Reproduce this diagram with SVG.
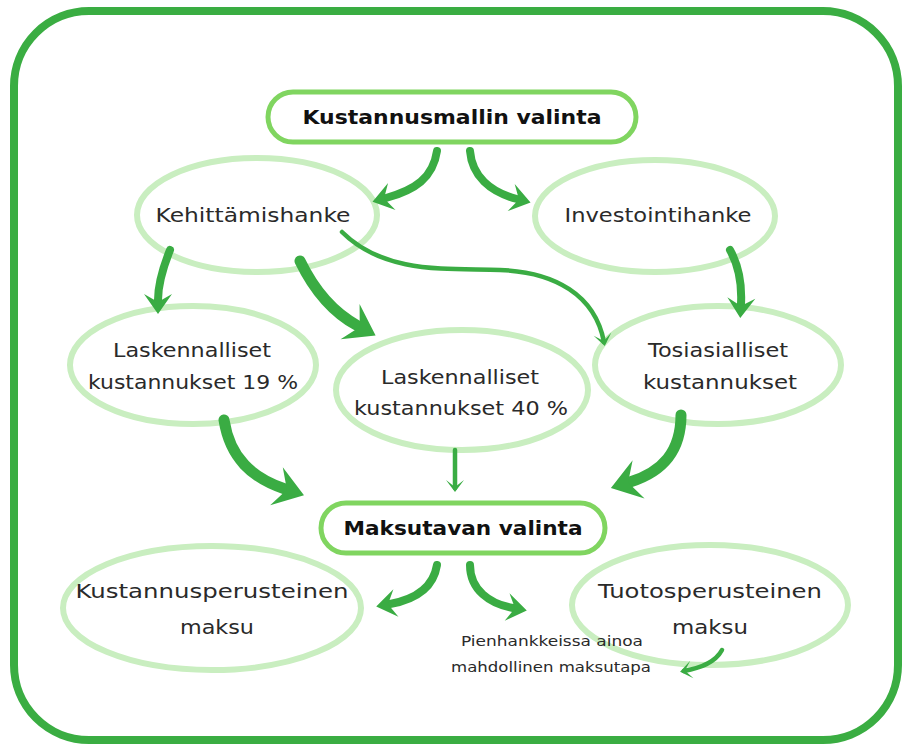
<svg xmlns="http://www.w3.org/2000/svg" width="911" height="749" viewBox="0 0 911 749">
<style>
.t{font-family:"DejaVu Sans","Open Sans",sans-serif;font-size:19px;fill:#2a2a2a;text-anchor:middle}
.b{font-weight:bold;font-size:20px;fill:#111}
.s{font-size:14px}
.e{fill:#fff;stroke:#c9eec0;stroke-width:6}
.box{fill:#fff;stroke:#80d560;stroke-width:5}
.a{fill:none;stroke:#3aac43;stroke-linecap:round}
.w1{stroke-width:11;marker-end:url(#hb)}
.w2{stroke-width:8;marker-end:url(#hm)}
.w3{stroke-width:4.5;marker-end:url(#hs)}
</style>
<defs>
<marker id="hb" markerUnits="userSpaceOnUse" orient="auto" markerWidth="60" markerHeight="60" viewBox="-30 -30 60 60" refX="0" refY="0"><path d="M20,0 L-9,-20 L2,0 L-9,20 Z" fill="#3aac43"/></marker>
<marker id="hm" markerUnits="userSpaceOnUse" orient="auto" markerWidth="50" markerHeight="50" viewBox="-25 -25 50 50" refX="0" refY="0"><path d="M14,0 L-6,-14 L2,0 L-6,14 Z" fill="#3aac43"/></marker>
<marker id="hs" markerUnits="userSpaceOnUse" orient="auto" markerWidth="30" markerHeight="30" viewBox="-15 -15 30 30" refX="0" refY="0"><path d="M4,0 L-8,-9 L-1,0 L-8,9 Z" fill="#3aac43"/></marker>
</defs>
<rect x="14" y="11" width="884" height="729" rx="75" fill="#fff" stroke="#3aad42" stroke-width="8"/>
<g id="n-kehittamishanke"><ellipse class="e" cx="257" cy="215" rx="120" ry="57"/><text class="t" x="253" y="222" textLength="195" lengthAdjust="spacingAndGlyphs">Kehittämishanke</text></g>
<g id="n-investointihanke"><ellipse class="e" cx="655" cy="216" rx="120" ry="56"/><text class="t" x="658" y="222" textLength="187" lengthAdjust="spacingAndGlyphs">Investointihanke</text></g>
<g id="n-lask19"><ellipse class="e" cx="193" cy="365" rx="123" ry="59"/><text class="t" x="192" y="357" textLength="158" lengthAdjust="spacingAndGlyphs">Laskennalliset</text><text class="t" x="193" y="389" textLength="210" lengthAdjust="spacingAndGlyphs">kustannukset 19 %</text></g>
<g id="n-lask40"><ellipse class="e" cx="462" cy="390" rx="126" ry="60"/><text class="t" x="460" y="384" textLength="158" lengthAdjust="spacingAndGlyphs">Laskennalliset</text><text class="t" x="461" y="415" textLength="214" lengthAdjust="spacingAndGlyphs">kustannukset 40 %</text></g>
<g id="n-tosiasialliset"><ellipse class="e" cx="718" cy="365" rx="123" ry="59"/><text class="t" x="718" y="357" textLength="140" lengthAdjust="spacingAndGlyphs">Tosiasialliset</text><text class="t" x="720" y="389" textLength="154" lengthAdjust="spacingAndGlyphs">kustannukset</text></g>
<g id="n-kustannusperusteinen"><ellipse class="e" cx="212" cy="608" rx="149" ry="62"/><text class="t" x="212" y="598" textLength="273" lengthAdjust="spacingAndGlyphs">Kustannusperusteinen</text><text class="t" x="217" y="634" textLength="74" lengthAdjust="spacingAndGlyphs">maksu</text></g>
<g id="n-tuotosperusteinen"><ellipse class="e" cx="710" cy="605" rx="138" ry="60"/><text class="t" x="710" y="598" textLength="224" lengthAdjust="spacingAndGlyphs">Tuotosperusteinen</text><text class="t" x="710" y="634" textLength="76" lengthAdjust="spacingAndGlyphs">maksu</text></g>
<g id="n-kustannusmalli"><rect class="box" x="268" y="92" width="368" height="50" rx="25"/><text class="t b" x="452" y="124" textLength="299" lengthAdjust="spacingAndGlyphs">Kustannusmallin valinta</text></g>
<g id="n-maksutapa"><rect class="box" x="321" y="503" width="284" height="50" rx="25"/><text class="t b" x="463" y="535" textLength="239" lengthAdjust="spacingAndGlyphs">Maksutavan valinta</text></g>
<g id="n-pienhankkeet"><text class="t s" x="552" y="646" textLength="182" lengthAdjust="spacingAndGlyphs">Pienhankkeissa ainoa</text><text class="t s" x="551" y="672" textLength="200" lengthAdjust="spacingAndGlyphs">mahdollinen maksutapa</text></g>
<g id="connectors">
<path class="a w2" d="M437,151 C433,178 415,190 386,198"/>
<path class="a w2" d="M470,151 C472,176 490,192 517,199"/>
<path class="a w2" d="M170,250 C162,270 158,285 158,300"/>
<path class="a w1" d="M300,261 C314,290 332,312 358,326"/>
<path class="a w3" d="M342,232 C385,275 450,268 500,270 C555,272 595,295 604,342"/>
<path class="a w2" d="M730,250 C740,268 742,285 741,304"/>
<path class="a w1" d="M224,420 C230,458 252,478 285,489"/>
<path class="a w3" d="M455,450 L455,488"/>
<path class="a w1" d="M681,415 C681,452 662,472 630,482"/>
<path class="a w2" d="M437,565 C433,590 412,600 390,604"/>
<path class="a w2" d="M470,565 C470,590 490,604 513,608"/>
<path class="a w3" d="M722,650 C715,663 700,668 684,671"/>
</g>
</svg>
